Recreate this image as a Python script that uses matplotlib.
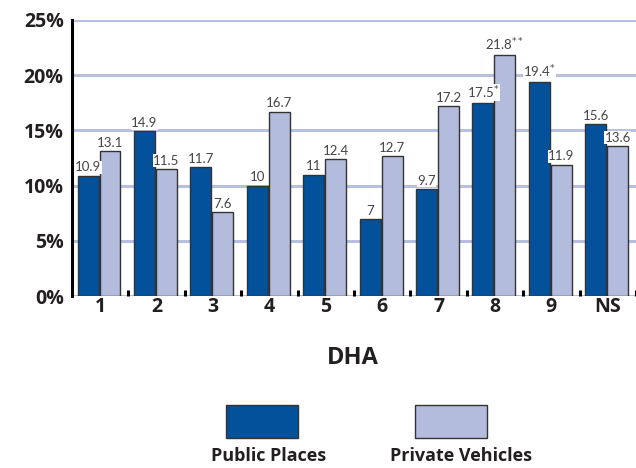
import matplotlib
matplotlib.use("Agg")
import matplotlib.pyplot as plt
import numpy as np
from matplotlib.patches import Rectangle

# Data
categories = ["1", "2", "3", "4", "5", "6", "7", "8", "9", "NS"]
public_places = [10.9, 14.9, 11.7, 10, 11, 7, 9.7, 17.5, 19.4, 15.6]
private_vehicles = [13.1, 11.5, 7.6, 16.7, 12.4, 12.7, 17.2, 21.8, 11.9, 13.6]
public_marks = ["", "", "", "", "", "", "", "*", "*", ""]
private_marks = ["", "", "", "", "", "", "", "**", "", ""]
yticks = [0, 5, 10, 15, 20, 25]
series_names = ["Public Places", "Private Vehicles"]

dark = "#03519b"
light = "#b3bcdc"
grid_c = "#b8c0e0"
text_c = "#231f20"
weight = "bold"

plt.rcParams["font.family"] = ["Open Sans", "DejaVu Sans"]

fig = plt.figure(figsize=(6.36, 4.68), dpi=100)
ax = fig.add_axes([0.1132, 0.3675, 0.8868, 0.5898])

x = np.arange(len(categories))
w = 0.37
gap = 0.02

for yv in yticks:
    ax.axhline(yv, color=grid_c, lw=2.2, zorder=0)

ax.bar(x - w / 2 - gap / 2 - 0.02, public_places, w, color=dark,
       edgecolor="#333333", lw=1.0, zorder=2)
ax.bar(x + w / 2 + gap / 2 - 0.02, private_vehicles, w, color=light,
       edgecolor="#333333", lw=1.0, zorder=2)


def label(xc, v, mark):
    s = f"{v:g}"
    if mark:
        s += "$^{" + mark + "}$"
    ax.text(xc, v + 0.2, s, ha="center", va="bottom", fontsize=9.5,
            color="#444444", zorder=3, family=["Lato", "DejaVu Sans"],
            bbox=dict(facecolor="white", edgecolor="none", pad=0.3))


for i in range(len(categories)):
    label(x[i] - w / 2 - gap / 2 - 0.02, public_places[i], public_marks[i])
    label(x[i] + w / 2 + gap / 2 - 0.02, private_vehicles[i], private_marks[i])

# small separators between groups
for i in range(len(categories)):
    ax.plot([i + 0.5, i + 0.5], [0, 0.55], color="black", lw=2.2,
            zorder=3, clip_on=False, solid_capstyle="butt")

ax.set_xlim(-0.5, len(categories) - 0.5)
ax.set_ylim(0, 25)
ax.set_yticks(yticks)
ax.set_yticklabels([f"{t}%" for t in yticks], fontsize=14, fontweight=weight,
                   color=text_c)
ax.set_xticks(x)
ax.set_xticklabels(categories, fontsize=14, fontweight=weight, color=text_c)
ax.tick_params(axis="both", length=0)
ax.tick_params(axis="y", pad=6)
ax.tick_params(axis="x", pad=1)

for side in ["top", "right", "bottom"]:
    ax.spines[side].set_visible(False)
ax.spines["left"].set_linewidth(2.2)
ax.spines["left"].set_color("black")

fig.text(353 / 636, 1 - 358 / 468, "DHA", ha="center", va="center",
         fontsize=17, fontweight=weight, color=text_c)

# legend
for bx, tx, col, name in [(262, 269, dark, series_names[0]),
                          (451, 461, light, series_names[1])]:
    fig.patches.append(Rectangle(((bx - 36) / 636, 1 - 438 / 468), 72 / 636,
                                 33 / 468, transform=fig.transFigure,
                                 facecolor=col, edgecolor="#333333", lw=1.0))
    fig.text(tx / 636, 1 - 456 / 468, name, ha="center", va="center",
             fontsize=13, fontweight=weight, color=text_c)

fig.savefig("out.png", dpi=100)
